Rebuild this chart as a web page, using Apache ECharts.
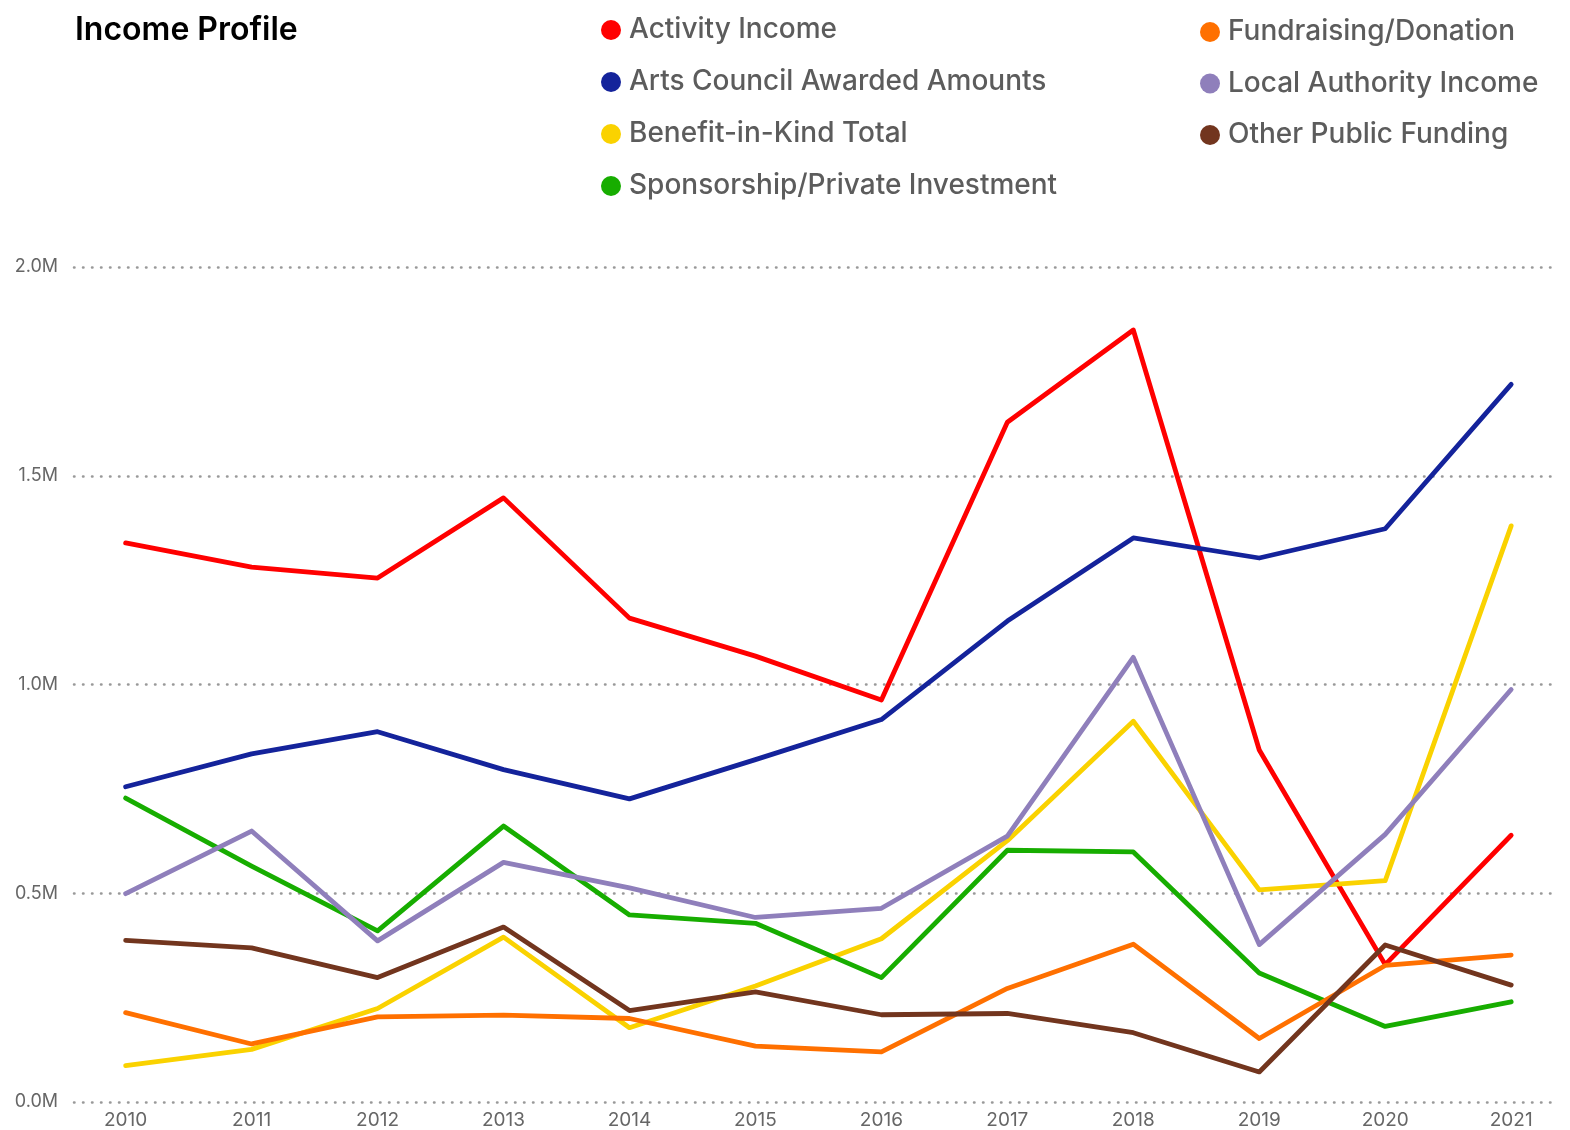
<!DOCTYPE html>
<html>
<head>
<meta charset="utf-8">
<script src="https://cdn.jsdelivr.net/npm/echarts@6/dist/echarts.min.js"></script>
<style>
  html, body { margin: 0; padding: 0; background: #fff; }
  #chart { width: 1570px; height: 1130px; }
</style>
</head>
<body>
<div id="chart"></div>
<script>
var years = [2010, 2011, 2012, 2013, 2014, 2015, 2016, 2017, 2018, 2019, 2020, 2021];

var activityIncome = [1339000, 1281000, 1255000, 1447000, 1159000, 1068000, 963000, 1628000, 1849000, 843000, 329000, 639000];
var artsCouncil = [755000, 834000, 887000, 796000, 726000, 820000, 916000, 1152000, 1351000, 1303000, 1373000, 1719000];
var benefitInKind = [87000, 126000, 224000, 395000, 178000, 278000, 391000, 626000, 912000, 508000, 530000, 1380000];
var sponsorship = [728000, 565000, 410000, 661000, 448000, 428000, 298000, 603000, 599000, 309000, 181000, 240000];
var fundraising = [214000, 139000, 204000, 208000, 200000, 134000, 120000, 272000, 378000, 152000, 327000, 352000];
var localAuthority = [499000, 649000, 386000, 574000, 513000, 442000, 464000, 637000, 1065000, 377000, 641000, 988000];
var otherPublic = [387000, 369000, 298000, 419000, 219000, 264000, 209000, 212000, 166000, 72000, 376000, 280000];

var seriesNames = ['Activity Income', 'Arts Council Awarded Amounts', 'Benefit-in-Kind Total',
  'Sponsorship/Private Investment', 'Fundraising/Donation', 'Local Authority Income', 'Other Public Funding'];
var seriesData = [activityIncome, artsCouncil, benefitInKind, sponsorship, fundraising, localAuthority, otherPublic];
var colors = ['#ff0000', '#14239b', '#fad200', '#17ad00', '#ff7000', '#8f7fbb', '#72351e'];

var chartDom = document.getElementById('chart');
var myChart = echarts.init(chartDom);

var legendText = { fontSize: 28, fontWeight: 500, color: '#5c5c5c', fontFamily: 'Inter', lineHeight: 30, padding: [0, 0, 0, 3] };

var option = {
  color: colors,
  animation: false,
  title: {
    text: 'Income Profile',
    left: 70,
    top: 9,
    textStyle: { fontSize: 32, fontWeight: 600, color: '#000', fontFamily: 'Inter' }
  },
  legend: [
    {
      data: seriesNames.slice(0, 4),
      orient: 'vertical',
      left: 596,
      top: 10,
      icon: 'circle',
      itemWidth: 20,
      itemHeight: 20,
      itemGap: 22,
      textStyle: legendText
    },
    {
      data: seriesNames.slice(4),
      orient: 'vertical',
      left: 1195,
      top: 12,
      icon: 'circle',
      itemWidth: 20,
      itemHeight: 20,
      itemGap: 21.5,
      textStyle: legendText
    }
  ],
  grid: {
    left: 74,
    right: 16,
    top: 267,
    bottom: 23
  },
  xAxis: {
    type: 'value',
    min: 2009.59,
    max: 2021.34,
    axisLine: { show: false },
    axisTick: { show: false },
    splitLine: { show: false },
    axisLabel: {
      customValues: years,
      color: '#666',
      fontSize: 19,
      fontFamily: 'Inter',
      margin: 9,
      formatter: function (v) { return String(v); }
    }
  },
  yAxis: {
    type: 'value',
    min: 0,
    max: 2000000,
    interval: 500000,
    axisLine: { show: false },
    axisTick: { show: false },
    axisLabel: {
      color: '#666',
      fontSize: 18,
      fontFamily: 'Inter',
      margin: 16,
      formatter: function (v) { return (v / 1000000).toFixed(1) + 'M'; }
    },
    splitLine: {
      lineStyle: { color: '#999', width: 2.5, type: [0.5, 8.5], cap: 'round' }
    }
  },
  series: seriesNames.map(function (name, i) {
    return {
      name: name,
      type: 'line',
      showSymbol: false,
      symbol: 'none',
      lineStyle: { width: 4.8, cap: 'round', join: 'round' },
      data: years.map(function (y, j) { return [y, seriesData[i][j]]; })
    };
  })
};

option && myChart.setOption(option);
</script>
</body>
</html>
